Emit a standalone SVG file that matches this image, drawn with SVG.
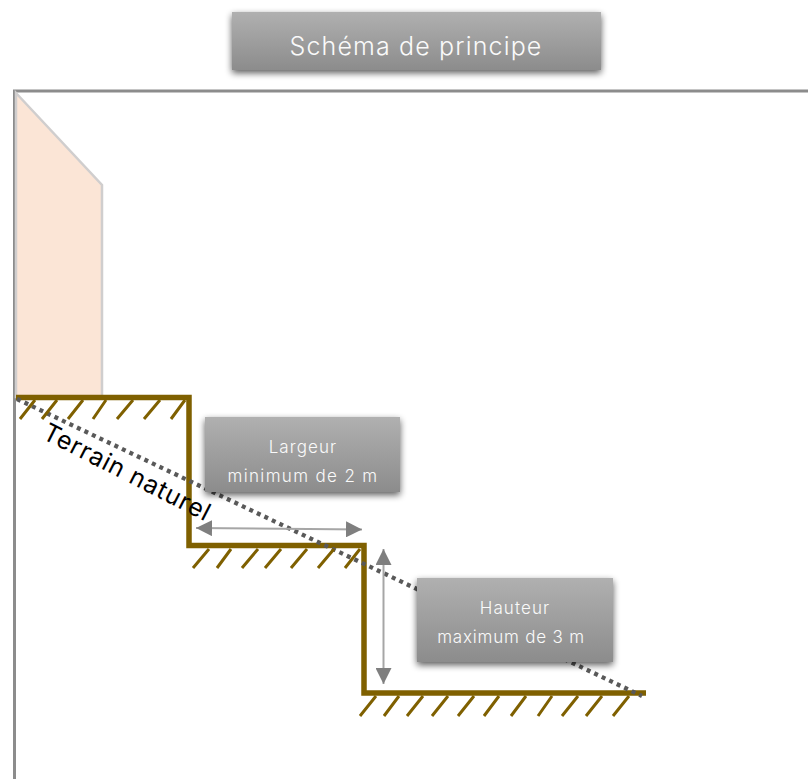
<svg xmlns="http://www.w3.org/2000/svg" width="808" height="779" viewBox="0 0 808 779">
<style>
.box{fill:url(#g);filter:url(#s)}
.lbl{font-family:"Inter","Liberation Sans",sans-serif;fill:#fafafa;text-anchor:middle;font-size:17px;font-weight:300;letter-spacing:1.100px}
.h{stroke:#7f6000;stroke-width:3;fill:none}
</style>
<defs>
<linearGradient id="g" x1="0" y1="0" x2="0" y2="1"><stop offset="0" stop-color="#b0b0b0"/><stop offset="1" stop-color="#8c8c8c"/></linearGradient>
<filter id="s" x="-10%" y="-20%" width="120%" height="150%"><feGaussianBlur in="SourceAlpha" stdDeviation="3.500"/><feOffset dx="0" dy="3"/><feComponentTransfer><feFuncA type="linear" slope="0.65"/></feComponentTransfer><feMerge><feMergeNode/><feMergeNode in="SourceGraphic"/></feMerge></filter>
<marker id="a" markerUnits="userSpaceOnUse" markerWidth="16" markerHeight="16" refX="16" refY="8" orient="auto-start-reverse"><path d="M0 0L16 8L0 16Z" fill="#7f7f7f"/></marker>
</defs>
<g id="frame"><path d="M14.500 779V91H808" fill="none" stroke="#8c8c8c" stroke-width="3"/></g>
<g id="building"><path d="M16 93L102 185V397H16Z" fill="#fbe5d6" stroke="#d0cece" stroke-width="2.500"/></g>
<g id="connectors">
<path d="M16 397.500H189V545.500H364V693H646" fill="none" stroke="#7f6000" stroke-width="5.500"/>
<path d="M17 399L642 696" fill="none" stroke="#595959" stroke-width="4.300" stroke-dasharray="4 4.300"/>
<path class="h" d="M20 419L35 400M42 419L57 400M68 419L83 400M93 419L106 400M117 419L133 400M144 419L160 400M171 419L185 400"/>
<path class="h" d="M193 568L209 549M217 568L231 549M242 568L258 549M265 568L281 549M291 568L307 549M318 568L334 549M345 568L360 549"/>
<path class="h" d="M360 716L376 696M384 716L399 696M407 716L423 696M432 716L448 696M458 716L474 696M484 716L499 696M511 716L526 696M538 716L552 696M562 716L578 696M586 716L602 696M613 716L629 696"/>
<path d="M196 528L362 529.500" fill="none" stroke="#a6a6a6" stroke-width="2" marker-start="url(#a)" marker-end="url(#a)"/>
<path d="M383.500 549V684" fill="none" stroke="#a6a6a6" stroke-width="2" marker-start="url(#a)" marker-end="url(#a)"/>
</g>
<g id="terrain"><text transform="translate(41 438) rotate(27)" font-family="Inter,'Liberation Sans',sans-serif" font-size="25" font-weight="400" letter-spacing="0.900" fill="#000">Terrain naturel</text></g>
<g id="title"><rect class="box" x="232" y="12" width="369" height="58"/><text class="lbl" x="416" y="55" style="font-size:25px;letter-spacing:1.150px">Schéma de principe</text></g>
<g id="largeur"><rect class="box" x="205" y="417" width="195" height="75"/><text class="lbl" x="303" y="453">Largeur</text><text class="lbl" x="303" y="482" style="letter-spacing:1.350px">minimum de 2 m</text></g>
<g id="hauteur"><rect class="box" x="417" y="578" width="196" height="84"/><text class="lbl" x="515" y="614">Hauteur</text><text class="lbl" x="511" y="643" style="letter-spacing:0.800px">maximum de 3 m</text></g>
</svg>
